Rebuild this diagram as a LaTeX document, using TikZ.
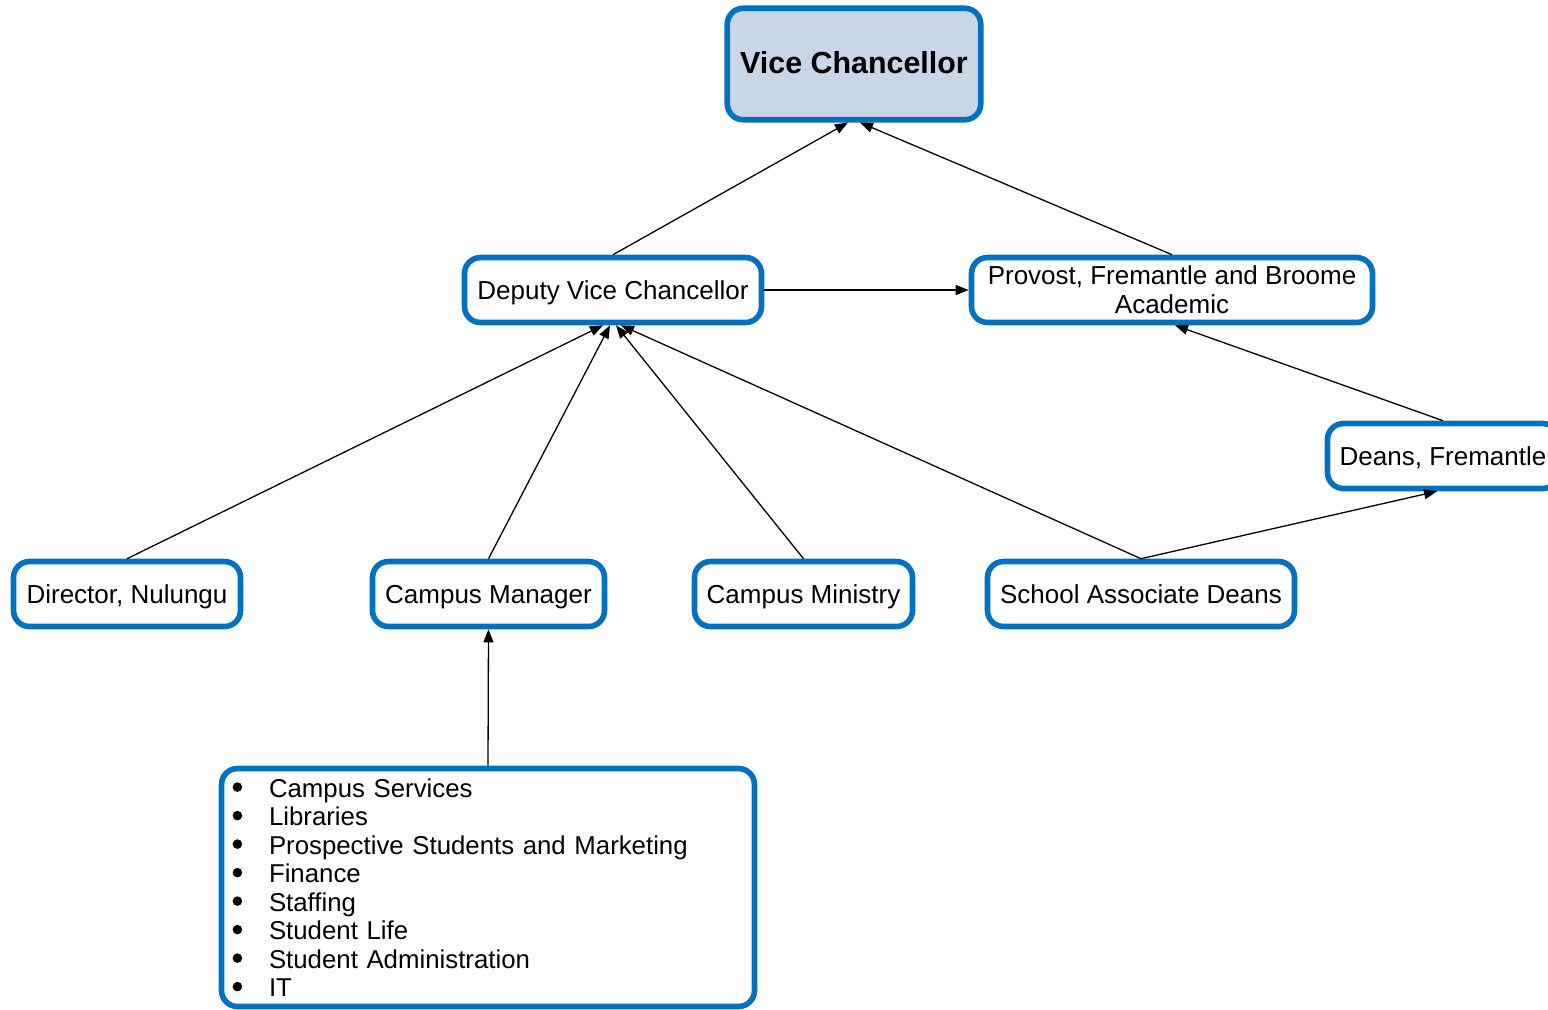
\documentclass[tikz,border=0pt]{standalone}
\usepackage{fontspec}
\setmainfont{Liberation Sans}
\usepackage{tikz}
\usetikzlibrary{positioning,calc,arrows.meta}
\definecolor{rim}{HTML}{0070C0}
\definecolor{top}{HTML}{C9D6E6}
\tikzset{
    unit/.style={draw=rim,line width=2.8pt,rounded corners=8pt,fill=white,
        inner sep=0pt,minimum height=32.5pt,align=center,
        font=\fontsize{13}{14.5}\selectfont},
    oneline/.style={text height=9.3pt,text depth=0pt},
    link/.style={-{Triangle[length=6.5pt,width=5pt]},line width=0.65pt}
}
\newcommand{\listdot}{\makebox[18.5pt][l]{\hspace{0.3pt}\raisebox{2.6pt}{\tikz\fill (0,0) circle (2.4pt);}}}
\newcommand{\entry}[1]{\listdot#1\\}

\begin{document}
\begin{tikzpicture}[x=0.5pt,y=-0.5pt]
        \useasboundingbox (0,0) rectangle (1548,1009);

        \node[unit,fill=top,minimum width=126.75pt,minimum height=55.75pt,
            font=\fontsize{15.2}{17}\selectfont\bfseries,text height=11pt,text depth=2pt] (vc) at (854,64) {Vice Chancellor};

        \node[unit,oneline,minimum width=148.5pt] (dvc) at (613,290) {Deputy Vice Chancellor};
        \node[unit,minimum width=200.5pt] (prov) at (1172,290) {Provost, Fremantle and Broome\\Academic};
        \node[unit,oneline,minimum width=115.5pt] (deans) at (1443,456) {Deans, Fremantle};

        \node[unit,oneline,minimum width=113.5pt] (dir) at (127,594) {Director, Nulungu};
        \node[unit,oneline,minimum width=116pt] (cm) at (488.5,594) {Campus Manager};
        \node[unit,oneline,minimum width=109pt] (min) at (803.5,594) {Campus Ministry};
        \node[unit,oneline,minimum width=153.5pt] (sad) at (1141,594) {School Associate Deans};

        \node[unit,minimum height=119pt,text width=256pt,inner xsep=5.25pt,
            align=left,font=\fontsize{12.9}{14.25}\selectfont] (list) at (488,887.5) {%
            \entry{Campus Services}
            \entry{Libraries}
            \entry{Prospective Students and Marketing}
            \entry{Finance}
            \entry{Staffing}
            \entry{Student Life}
            \entry{Student Administration}
            \listdot IT};

        \path[link] (dvc.north) edge ($(vc.south)+(-6,0)$);
        \path[link] (prov.north) edge ($(vc.south)+(6,0)$);
        \path[link] (dvc.east) edge (prov.west);
        \path[link] (deans.north) edge ($(prov.south)+(3,0)$);

        \path[link] (dir.north) edge ($(dvc.south)+(-10,0)$);
        \path[link] (cm.north) edge ($(dvc.south)+(-3,0)$);
        \path[link] (min.north) edge ($(dvc.south)+(3,0)$);
        \path[link] (sad.north) edge ($(dvc.south)+(8,0)$);
        \path[link] (sad.north) edge ($(deans.south)+(-6,0)$);

        \path[link] (list.north) edge (cm.south);
\end{tikzpicture}
\end{document}
